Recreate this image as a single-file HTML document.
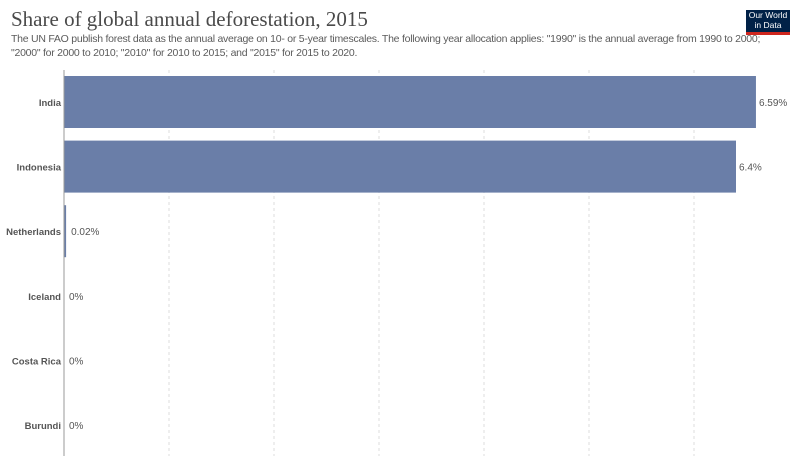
<!DOCTYPE html>
<html><head><meta charset="utf-8"><style>
body{margin:0;width:800px;height:466px;background:#fff;overflow:hidden;font-family:"Liberation Sans",sans-serif;}
#title{position:absolute;left:11px;top:7px;font-family:"Liberation Serif",serif;font-size:21px;color:#4a4a4a;margin:0;font-weight:normal;}
#sub{position:absolute;left:11px;top:33px;width:785px;font-size:10.5px;letter-spacing:-0.25px;line-height:13.5px;color:#5b5b5b;white-space:nowrap;}
#logo{position:absolute;left:746px;top:10px;width:44px;height:21px;background:#002147;border-bottom:3px solid #ce261e;color:#fff;font-size:8.5px;line-height:9.5px;text-align:center;padding-top:1px;box-sizing:content-box;z-index:2;}
</style></head><body>
<h1 id="title">Share of global annual deforestation, 2015</h1>
<div id="sub">The UN FAO publish forest data as the annual average on 10- or 5-year timescales. The following year allocation applies: "1990" is the annual average from 1990 to 2000;<br>"2000" for 2000 to 2010; "2010" for 2010 to 2015; and "2015" for 2015 to 2020.</div>
<div id="logo">Our World<br>in Data</div>
<svg id="chart" width="800" height="466" style="position:absolute;left:0;top:0"></svg>
<script>
const categories=["India","Indonesia","Netherlands","Iceland","Costa Rica","Burundi"];
const values=[6.59,6.4,0.02,0,0,0];
const valueLabels=["6.59%","6.4%","0.02%","0%","0%","0%"];
const gridTicks=[1,2,3,4,5,6];
const svg=document.getElementById('chart');
const NS='http://www.w3.org/2000/svg';
const x0=64,pxPer=105.0,y0=76,step=64.6,bh=52;
const xs=v=>x0+v*pxPer;
function mk(t,a){const e=document.createElementNS(NS,t);for(const k in a)e.setAttribute(k,a[k]);svg.appendChild(e);return e;}
gridTicks.forEach(t=>{
 const l=mk('line',{x1:xs(t),x2:xs(t),y1:70,y2:456,stroke:'#ddd','stroke-dasharray':'3,3'});
 
 
});
categories.forEach((c,i)=>{
 const y=y0+i*step;
 const r=mk('rect',{x:x0,y:y,width:Math.max(values[i]*pxPer,values[i]>0?2:0),height:bh,fill:'#6a7ea8'});
 
 
 const lb=mk('text',{x:x0-3,y:y+bh/2+4,'text-anchor':'end','font-size':9.5,fill:'#555','font-weight':'bold'});
 lb.textContent=c;
 
 
 const vl=mk('text',{x:xs(values[i])+(values[i]>0.1?3:5),y:y+bh/2+4,'font-size':10,fill:'#555'});
 vl.textContent=valueLabels[i];
 
 
});
const ax=mk('line',{x1:x0,x2:x0,y1:70,y2:456,stroke:'#999'});


</script>
</body></html>
